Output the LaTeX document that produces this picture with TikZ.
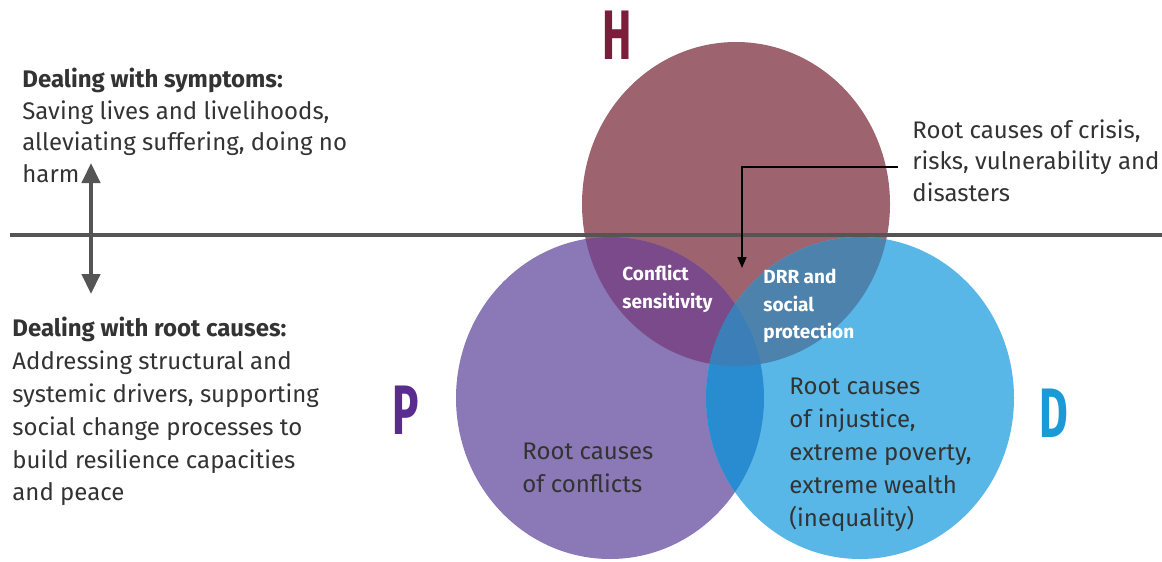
\documentclass[tikz,border=0pt]{standalone}
\usepackage{fontspec}
\setmainfont{Fira Sans}
\usepackage{xcolor}
\usepackage{tikz}
\usetikzlibrary{arrows}
\usetikzlibrary{arrows.meta}
\definecolor{hcolor}{HTML}{9D6470}
\definecolor{pcolor}{HTML}{8B78B6}
\definecolor{dcolor}{HTML}{59B7E8}
\definecolor{hpcolor}{HTML}{7A4A8A}
\definecolor{hdcolor}{HTML}{4C82AC}
\definecolor{pdcolor}{HTML}{2A8CD0}
\definecolor{hpdcolor}{HTML}{3B7EB8}
\definecolor{hletter}{HTML}{7B1E3C}
\definecolor{pletter}{HTML}{5B2C8F}
\definecolor{dletter}{HTML}{1A9AD6}
\definecolor{textcolor}{HTML}{333333}
\definecolor{barcolor}{HTML}{555555}

\tikzset{
  sidetext/.style={anchor=north west,inner sep=0pt,align=left,text=textcolor,
    font=\fontsize{24}{31.5}\selectfont},
  roottext/.style={anchor=north west,inner sep=0pt,align=left,text=textcolor,
    font=\fontsize{24}{32.8}\selectfont},
  overlaptext/.style={anchor=north west,inner sep=0pt,align=left,text=white,
    font=\bfseries\fontsize{19}{27.5}\selectfont},
  bigletter/.style={anchor=north west,inner sep=0pt,font=\bfseries\fontsize{70}{70}\selectfont},
  hshape/.style={insert path={(hc) ellipse [x radius=154pt, y radius=162pt]}},
  pshape/.style={insert path={(pc) ellipse [x radius=154pt, y radius=161pt]}},
  dshape/.style={insert path={(dc) ellipse [x radius=154pt, y radius=161pt]}}
}

\begin{document}
\begin{tikzpicture}[x=1pt,y=-1pt,thick]
  \useasboundingbox (0,0) rectangle (1162,562);
  \coordinate (hc) at (736,204);
  \coordinate (pc) at (610,398);
  \coordinate (dc) at (860,398);
  %% circles
  \fill[hcolor, hshape];
  \fill[pcolor, pshape];
  \fill[dcolor, dshape];
  %% overlaps
  \begin{scope}
    \clip[hshape];
    \fill[hpcolor, pshape];
    \fill[hdcolor, dshape];
  \end{scope}
  \begin{scope}
    \clip[pshape];
    \fill[pdcolor, dshape];
    \clip[dshape];
    \fill[hpdcolor, hshape];
  \end{scope}
  %% dividing line
  \draw[barcolor, line width=4.5pt] (10,235) -- (1162,235);
  \coordinate (up) at (91,163);
  \coordinate (down) at (91,294);
  \draw[barcolor, line width=4.5pt, {Triangle[width=18pt,length=20pt]}-{Triangle[width=18pt,length=20pt]}] (up) -- (down);
  %% letters
  \node[bigletter, text=hletter] (labelH) at (602,11) {\scalebox{0.63}[1]{H}};
  \node[bigletter, text=pletter] (labelP) at (392,386) {\scalebox{0.63}[1]{P}};
  \node[bigletter, text=dletter] (labelD) at (1039,389) {\scalebox{0.63}[1]{D}};
  %% side texts
  \node[sidetext] (symptoms) at (22,68) {\textbf{Dealing with symptoms:}\\Saving lives and livelihoods,\\alleviating suffering, doing no\\harm};
  \node[roottext] (rootcauses) at (12,317) {\textbf{Dealing with root causes:}\\Addressing structural and\\systemic drivers, supporting\\social change processes to\\build resilience capacities\\and peace};
  \node[sidetext] (crisis) at (912,119) {Root causes of crisis,\\risks, vulnerability and\\disasters};
  %% texts in circles
  \node[overlaptext] (sensitivity) at (622,265) {Conflict\\sensitivity};
  \node[overlaptext] (drr) at (763,269) {DRR and\\social\\protection};
  \node[roottext] (conflicts) at (522,443) {Root causes\\of conflicts};
  \node[roottext] (injustice) at (789,378) {Root causes\\of injustice,\\extreme poverty,\\extreme wealth\\(inequality)};
  %% pointer into the middle
  \coordinate (bend) at (742,167);
  \coordinate (tip) at (742,268);
  \draw[black, line width=1.6pt, -{Triangle[width=9pt,length=11pt]}] ([xshift=-14pt]crisis.west |- bend) -- (bend) -- (tip);
\end{tikzpicture}
\end{document}
